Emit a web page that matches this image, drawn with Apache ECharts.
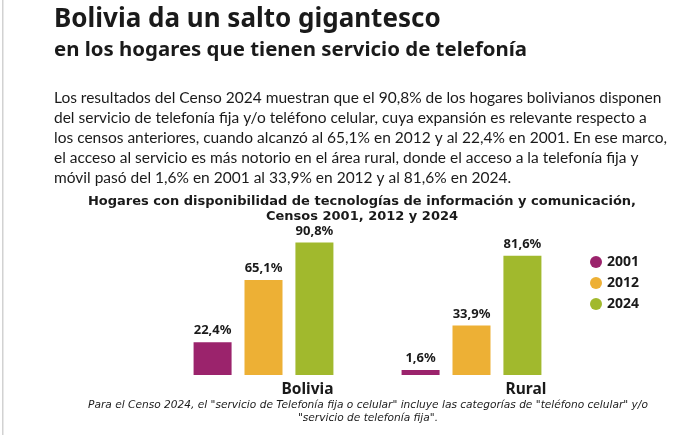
<!DOCTYPE html>
<html>
<head>
<meta charset="utf-8">
<script src="https://cdn.jsdelivr.net/npm/echarts@6/dist/echarts.min.js"></script>
<style>
  html, body { margin: 0; padding: 0; background: #fff; }
  #main { width: 694px; height: 435px; }
</style>
</head>
<body>
<div id="main"></div>
<script>
// datos del gráfico
var categories = ['Bolivia', 'Rural'];
var years = ['2001', '2012', '2024'];
var values2001 = [22.4, 1.6];
var values2012 = [65.1, 33.9];
var values2024 = [90.8, 81.6];
var colors = ['#9b236c', '#edb035', '#a1b92d'];

var titleText = 'Bolivia da un salto gigantesco';
var subtitleText = 'en los hogares que tienen servicio de telefonía';
var paragraphLines = [
    'Los resultados del Censo 2024 muestran que el 90,8% de los hogares bolivianos disponen',
    'del servicio de telefonía fija y/o teléfono celular, cuya expansión es relevante respecto a',
    'los censos anteriores, cuando alcanzó al 65,1% en 2012 y al 22,4% en 2001. En ese marco,',
    'el acceso al servicio es más notorio en el área rural, donde el acceso a la telefonía fija y',
    'móvil pasó del 1,6% en 2001 al 33,9% en 2012 y al 81,6% en 2024.'
];
var chartTitleLines = [
    'Hogares con disponibilidad de tecnologías de información y comunicación,',
    'Censos 2001, 2012 y 2024'
];
var footnoteLines = [
    'Para el Censo 2024, el "servicio de Telefonía fija o celular" incluye las categorías de "teléfono celular" y/o',
    '"servicio de telefonía fija".'
];

var headFont = '"Noto Sans", "Open Sans", sans-serif';
var textFont = 'Lato, "Open Sans", sans-serif';
var chartFont = '"DejaVu Sans", sans-serif';

function fmtPct(v) {
    return v.toFixed(1).replace('.', ',') + '%';
}

function textItem(text, x, y, size, weight, family, align, style) {
    return {
        type: 'text',
        x: x,
        y: y,
        style: {
            text: text,
            fontSize: size,
            fontWeight: weight,
            fontFamily: family,
            fontStyle: style || 'normal',
            fill: '#1a1a1a',
            align: align,
            verticalAlign: 'middle'
        }
    };
}

var graphics = [
    // borde izquierdo
    {
        type: 'rect',
        shape: { x: 2, y: 0, width: 1.5, height: 435 },
        style: { fill: '#d2d2d2' }
    },
    textItem(titleText, 54, 20, 26, 'bold', headFont, 'left'),
    textItem(subtitleText, 54, 50, 20.4, 'bold', headFont, 'left')
];

var paraY = [98, 118, 138, 158, 177.5];
for (var i = 0; i < paragraphLines.length; i++) {
    graphics.push(textItem(paragraphLines[i], 54, paraY[i], 15.5, 'normal', textFont, 'left'));
}

graphics.push(textItem(chartTitleLines[0], 362, 202, 13, 'bold', chartFont, 'center'));
graphics.push(textItem(chartTitleLines[1], 362, 217, 13, 'bold', chartFont, 'center'));
graphics.push(textItem(footnoteLines[0], 368, 405.5, 10.6, 'normal', chartFont, 'center', 'italic'));
graphics.push(textItem(footnoteLines[1], 368, 418, 10.6, 'normal', chartFont, 'center', 'italic'));

function barSeries(name, data, color) {
    return {
        name: name,
        type: 'bar',
        data: data,
        barWidth: 38,
        barGap: '34%',
        barMinHeight: 5,
        itemStyle: { color: color },
        label: {
            show: true,
            position: 'top',
            distance: 5,
            fontFamily: headFont,
            fontWeight: 'bold',
            fontSize: 13,
            color: '#1a1a1a',
            formatter: function (p) {
                return fmtPct(p.value);
            }
        }
    };
}

var chart = echarts.init(document.getElementById('main'));

var option = {
    animation: false,
    grid: {
        left: 159.5,
        right: 118.5,
        top: 229,
        bottom: 60
    },
    legend: {
        data: years,
        orient: 'vertical',
        left: 585,
        top: 250,
        icon: 'circle',
        itemWidth: 12,
        itemHeight: 12,
        itemGap: 7,
        textStyle: {
            fontFamily: headFont,
            fontWeight: 'bold',
            fontSize: 14,
            color: '#1a1a1a'
        }
    },
    xAxis: {
        type: 'category',
        data: categories,
        axisLine: { show: false },
        axisTick: { show: false },
        axisLabel: {
            margin: 7,
            formatter: function (v) {
                return v === 'Bolivia' ? '{a|' + v + '}' : '{b|' + v + '}';
            },
            rich: {
                a: {
                    fontFamily: headFont,
                    fontWeight: 'bold',
                    fontSize: 15.5,
                    color: '#1a1a1a',
                    padding: [0, 0, 0, 88]
                },
                b: {
                    fontFamily: headFont,
                    fontWeight: 'bold',
                    fontSize: 15.5,
                    color: '#1a1a1a',
                    padding: [0, 0, 0, 109]
                }
            }
        }
    },
    yAxis: {
        type: 'value',
        min: 0,
        max: 100,
        show: false
    },
    series: [
        barSeries(years[0], values2001, colors[0]),
        barSeries(years[1], values2012, colors[1]),
        barSeries(years[2], values2024, colors[2])
    ],
    graphic: graphics
};

chart.setOption(option);
</script>
</body>
</html>
